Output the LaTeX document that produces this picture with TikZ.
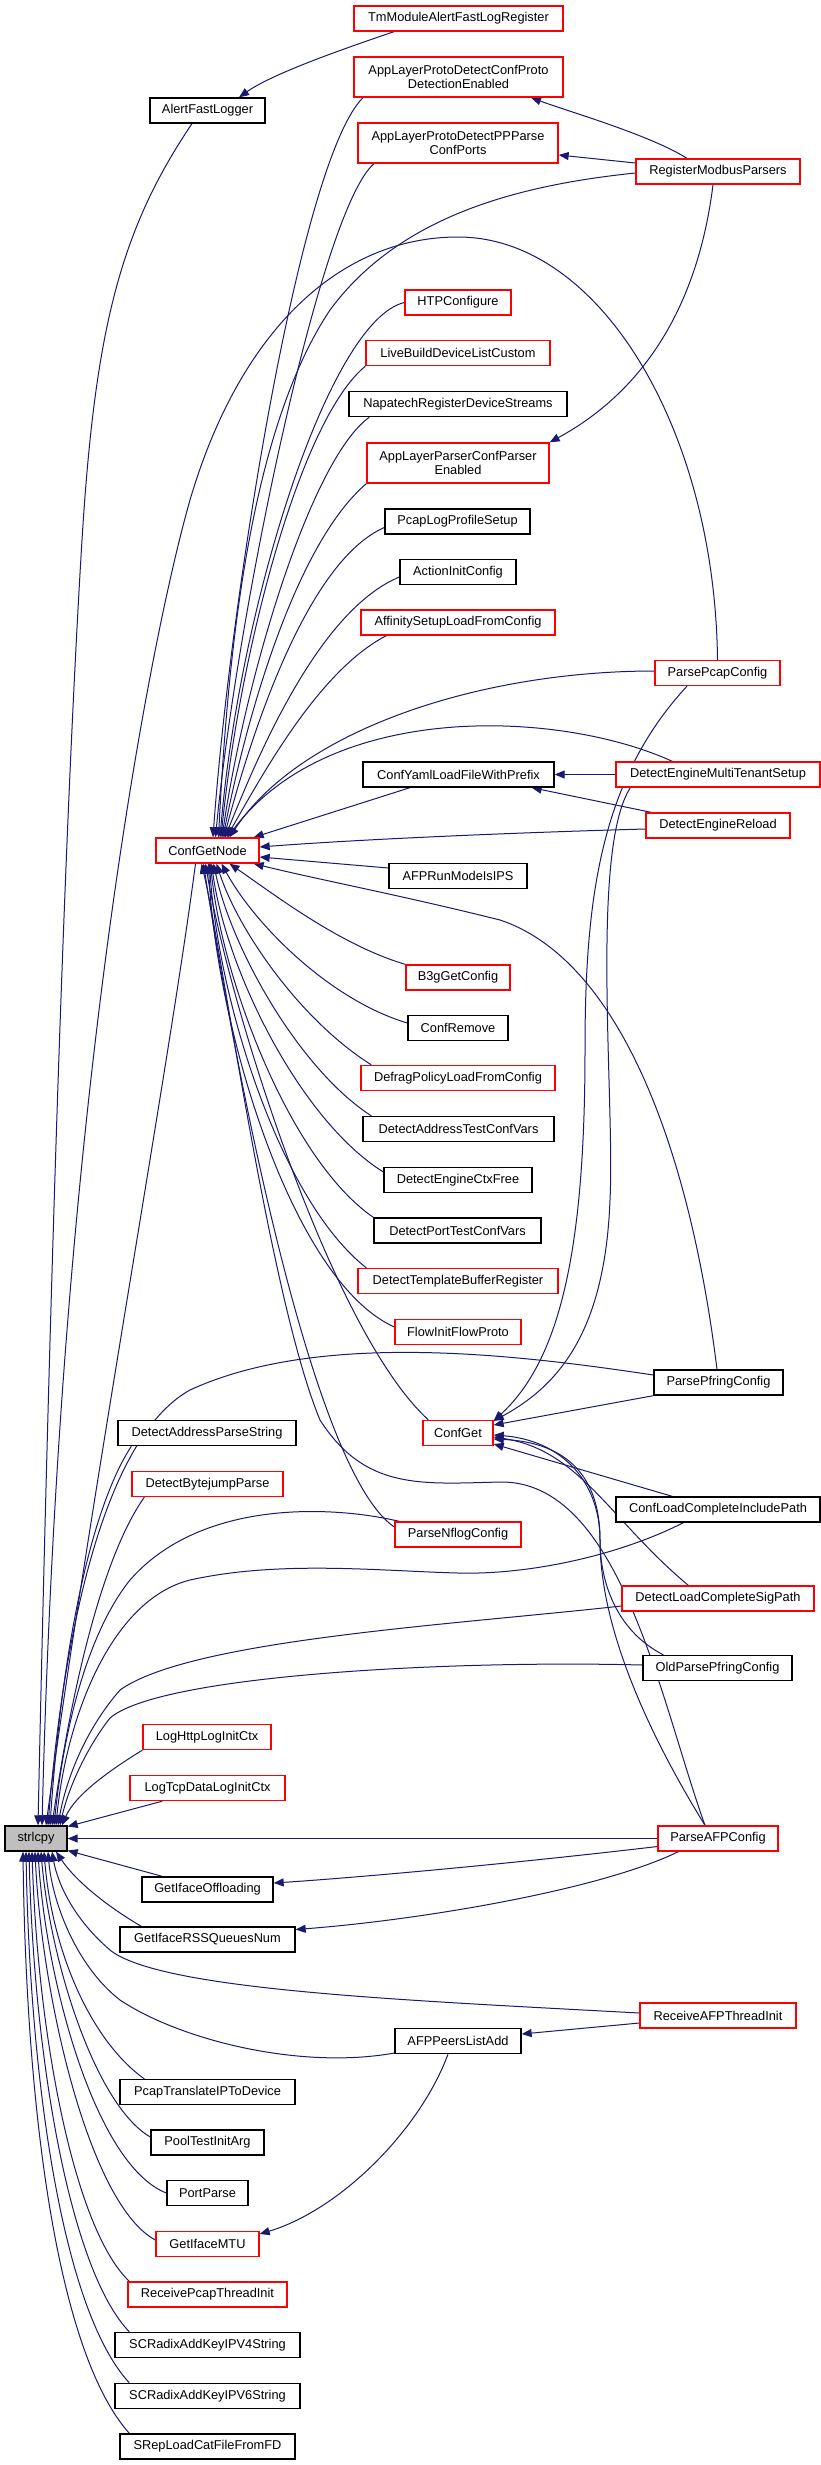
\documentclass[tikz,border=0pt]{standalone}
\usepackage{fontspec}
\setmainfont{Liberation Sans}
\usetikzlibrary{arrows.meta}
\definecolor{edgec}{HTML}{191970}
\definecolor{nodegray}{HTML}{BFBFBF}
\pgfdeclarelayer{bg}
\pgfsetlayers{bg,main}
\begin{document}
\begin{tikzpicture}[x=1pt,y=-1pt,
  nb/.style={draw=black, line width=1.3pt, fill=white, inner sep=0pt, minimum height=25pt, font=\fontsize{12.8}{14.5}\selectfont, align=center},
  nr/.style={nb, draw=red},
  e/.style={draw=edgec, line width=1pt, -{Triangle[length=10pt,width=8pt]}},
]
\useasboundingbox (0,0) rectangle (821,2465);
% ---- nodes
\node[nb, fill=nodegray, minimum width=62pt] (strl) at (36,1838.5) {strlcpy};
\node[nr, minimum width=209pt] (tm) at (458.5,18.5) {TmModuleAlertFastLogRegister};
\node[nr, minimum width=209pt, minimum height=40pt] (alpd) at (458.5,77) {AppLayerProtoDetectConfProto\\DetectionEnabled};
\node[nb, minimum width=115pt] (afl) at (207.5,110.5) {AlertFastLogger};
\node[nr, minimum width=200pt, minimum height=40pt] (alpp) at (458,143) {AppLayerProtoDetectPPParse\\ConfPorts};
\node[nr, minimum width=164pt] (rmp) at (718,171.5) {RegisterModbusParsers};
\node[nr, minimum width=106pt] (htp) at (458,302.5) {HTPConfigure};
\node[nr, minimum width=184pt] (lbd) at (458,353) {LiveBuildDeviceListCustom};
\node[nb, minimum width=218pt] (nap) at (458,404) {NapatechRegisterDeviceStreams};
\node[nr, minimum width=182pt, minimum height=40pt] (alpc) at (458,463) {AppLayerParserConfParser\\Enabled};
\node[nb, minimum width=145pt] (pcl) at (457.5,521.5) {PcapLogProfileSetup};
\node[nb, minimum width=116pt] (aic) at (458,572) {ActionInitConfig};
\node[nr, minimum width=194pt] (asl) at (458,622.5) {AffinitySetupLoadFromConfig};
\node[nr, minimum width=125pt] (ppc) at (717.5,673) {ParsePcapConfig};
\node[nb, minimum width=191pt] (cyl) at (458.5,774.5) {ConfYamlLoadFileWithPrefix};
\node[nr, minimum width=204pt] (demt) at (718,774.5) {DetectEngineMultiTenantSetup};
\node[nr, minimum width=144pt] (der) at (718,825.5) {DetectEngineReload};
\node[nr, minimum width=103pt] (cgn) at (207.5,850.5) {ConfGetNode};
\node[nb, minimum width=138pt] (afpr) at (458,876) {AFPRunModeIsIPS};
\node[nr, minimum width=104pt] (b3g) at (458,977.5) {B3gGetConfig};
\node[nb, minimum width=100pt] (crm) at (458,1028) {ConfRemove};
\node[nr, minimum width=194pt] (dpl) at (458,1078) {DefragPolicyLoadFromConfig};
\node[nb, minimum width=191pt] (datc) at (458.5,1129) {DetectAddressTestConfVars};
\node[nb, minimum width=148pt] (dec) at (458,1180) {DetectEngineCtxFree};
\node[nb, minimum width=167pt] (dptc) at (457.5,1230.5) {DetectPortTestConfVars};
\node[nr, minimum width=200pt] (dtbr) at (458,1281) {DetectTemplateBufferRegister};
\node[nr, minimum width=126pt] (fifp) at (458,1332) {FlowInitFlowProto};
\node[nb, minimum width=129pt] (ppf) at (718.5,1382.5) {ParsePfringConfig};
\node[nr, minimum width=70pt] (cg) at (458,1433) {ConfGet};
\node[nb, minimum width=178pt] (daps) at (207,1433) {DetectAddressParseString};
\node[nr, minimum width=151pt] (dbp) at (207.5,1484) {DetectBytejumpParse};
\node[nb, minimum width=204pt] (clc) at (718,1509.5) {ConfLoadCompleteIncludePath};
\node[nr, minimum width=126pt] (pnc) at (458,1534.5) {ParseNflogConfig};
\node[nr, minimum width=192pt] (dlc) at (718,1598.5) {DetectLoadCompleteSigPath};
\node[nb, minimum width=149pt] (oppc) at (717.5,1668) {OldParsePfringConfig};
\node[nr, minimum width=128pt] (lhl) at (207,1737) {LogHttpLogInitCtx};
\node[nr, minimum width=155pt] (ltd) at (207.5,1788) {LogTcpDataLogInitCtx};
\node[nr, minimum width=120pt] (pafp) at (718,1838.5) {ParseAFPConfig};
\node[nb, minimum width=131pt] (gio) at (207.5,1889.5) {GetIfaceOffloading};
\node[nb, minimum width=175pt] (grss) at (207.5,1939.5) {GetIfaceRSSQueuesNum};
\node[nr, minimum width=156pt] (rafp) at (718,2015.5) {ReceiveAFPThreadInit};
\node[nb, minimum width=126pt] (afpp) at (458,2041) {AFPPeersListAdd};
\node[nb, minimum width=175pt] (ptip) at (207.5,2092) {PcapTranslateIPToDevice};
\node[nb, minimum width=113pt] (ptia) at (207.5,2142.5) {PoolTestInitArg};
\node[nb, minimum width=81pt] (pp) at (207.5,2193) {PortParse};
\node[nr, minimum width=103pt] (gmtu) at (207.5,2244) {GetIfaceMTU};
\node[nr, minimum width=159pt] (rpti) at (207.5,2294.5) {ReceivePcapThreadInit};
\node[nb, minimum width=185pt] (sc4) at (207.5,2345) {SCRadixAddKeyIPV4String};
\node[nb, minimum width=185pt] (sc6) at (207.5,2396) {SCRadixAddKeyIPV6String};
\node[nb, minimum width=175pt] (srep) at (207.5,2446.5) {SRepLoadCatFileFromFD};
% ---- edges
\begin{pgfonlayer}{bg}
\fill[white] (0,0) rectangle (821,2465);
\draw[e] ([xshift=-64.5pt]tm.south) .. controls (340,50) and (272,74) .. ([xshift=31.5pt]afl.north);
\draw[e] ([xshift=-15.5pt]afl.south) .. controls (120,230) and (95,330) .. (82,540) .. controls (60,900) and (45,1500) .. ([xshift=2pt]strl.north);
\draw[e] ([xshift=-95.5pt]alpd.south) .. controls (300,160) and (230,600) .. ([xshift=5.5pt]cgn.north);
\draw[e] ([xshift=-84pt]alpp.south) .. controls (320,210) and (236,620) .. ([xshift=8pt]cgn.north);
\draw[e] ([xshift=-31pt]rmp.north) .. controls (650,135) and (570,112) .. ([xshift=72.5pt]alpd.south);
\draw[e] ([yshift=8.5pt]rmp.west) -- ([yshift=-12pt]alpp.east);
\draw[e] ([yshift=-1.5pt]rmp.west) .. controls (520,185) and (400,215) .. (330,310) .. controls (250,430) and (228,650) .. ([xshift=11pt]cgn.north);
\draw[e] ([xshift=-5pt]rmp.south) .. controls (700,290) and (655,385) .. (alpc.north east);
\draw[e] (htp.west) .. controls (330,320) and (240,600) .. ([xshift=12.5pt]cgn.north);
\draw[e] (lbd.south west) .. controls (300,420) and (240,650) .. ([xshift=13.5pt]cgn.north);
\draw[e] ([xshift=21pt]nap.south west) .. controls (310,460) and (245,680) .. ([xshift=14.5pt]cgn.north);
\draw[e] (alpc.south west) .. controls (300,540) and (250,700) .. ([xshift=15.5pt]cgn.north);
\draw[e] ([yshift=-6pt]pcl.west) .. controls (310,560) and (255,720) .. ([xshift=16.5pt]cgn.north);
\draw[e] ([yshift=-5pt]aic.west) .. controls (320,610) and (260,750) .. ([xshift=17.5pt]cgn.north);
\draw[e] ([xshift=26pt]asl.south west) .. controls (320,670) and (265,770) .. ([xshift=19pt]cgn.north);
\draw[e] (ppc.north) .. controls (715,430) and (600,237) .. (458,237) .. controls (340,237) and (240,330) .. (190,500) .. controls (150,640) and (60,1100) .. ([xshift=6pt]strl.north);
\draw[e] ([yshift=2pt]ppc.west) .. controls (480,671) and (300,730) .. ([xshift=22pt]cgn.north);
\draw[e] ([xshift=-30.5pt]ppc.south) .. controls (600,780) and (585,900) .. (585,1050) .. controls (585,1250) and (560,1360) .. ([yshift=-1pt]cg.north east);
\draw[e] ([xshift=57pt]demt.north west) .. controls (560,710) and (330,700) .. ([xshift=20pt]cgn.north);
\draw[e] (demt.west) -- (cyl.east);
\draw[e] ([xshift=15pt]demt.south west) .. controls (590,850) and (615,1100) .. (610,1200) .. controls (605,1330) and (560,1385) .. ([yshift=-1pt]cg.north east);
\draw[e] ([xshift=6pt]der.north west) -- ([xshift=-23pt]cyl.south east);
\draw[e] ([yshift=-3.5pt]der.west) .. controls (500,833) and (350,840) .. ([yshift=3.5pt]cgn.east);
\draw[e] ([xshift=-48.5pt]cyl.south) -- ([xshift=-6pt]cgn.north east);
\draw[e] ([yshift=8pt]afpr.west) -- ([yshift=-6.5pt]cgn.east);
\draw[e] ([xshift=-1.5pt]ppf.north) .. controls (690,1150) and (620,960) .. (500,920) .. controls (400,895) and (320,880) .. ([xshift=-6pt]cgn.south east);
\draw[e] (b3g.north west) .. controls (340,945) and (275,895) .. ([xshift=22pt]cgn.south);
\draw[e] ([yshift=5pt]crm.west) .. controls (330,1000) and (255,925) .. ([xshift=14pt]cgn.south);
\draw[e] ([xshift=11pt]dpl.north west) .. controls (300,1020) and (238,930) .. ([xshift=9pt]cgn.south);
\draw[e] ([xshift=9pt]datc.north west) .. controls (300,1070) and (232,950) .. ([xshift=6pt]cgn.south);
\draw[e] ([yshift=8pt]dec.west) .. controls (300,1120) and (226,970) .. ([xshift=4pt]cgn.south);
\draw[e] (dptc.north west) .. controls (290,1160) and (222,980) .. ([xshift=3pt]cgn.south);
\draw[e] ([xshift=9pt]dtbr.north west) .. controls (280,1200) and (218,1000) .. ([xshift=2pt]cgn.south);
\draw[e] ([yshift=5pt]fifp.west) .. controls (290,1280) and (215,1020) .. ([xshift=1pt]cgn.south);
\draw[e] ([xshift=6pt]cg.north west) .. controls (330,1330) and (228,1000) .. ([xshift=-2pt]cgn.south);
\draw[e] ([yshift=7.5pt]pnc.west) .. controls (310,1470) and (232,1050) .. ([xshift=-4pt]cgn.south);
\draw[e] ([xshift=-13pt]pafp.north) .. controls (660,1700) and (620,1480) .. (500,1482) .. controls (420,1484) and (365,1490) .. (320,1420) .. controls (270,1300) and (222,950) .. ([xshift=-6pt]cgn.south);
\draw[e] ([xshift=-12pt]cgn.south) .. controls (170,1060) and (90,1500) .. ([xshift=10pt]strl.north);
\draw[e] ([yshift=7.5pt]ppf.west) .. controls (520,1355) and (320,1330) .. (190,1390) .. controls (100,1440) and (62,1650) .. ([xshift=12pt]strl.north);
\draw[e] (ppf.south west) -- ([yshift=8pt]cg.east);
\draw[e] ([xshift=14pt]daps.south west) .. controls (90,1510) and (62,1650) .. ([xshift=14pt]strl.north);
\draw[e] ([xshift=13pt]dbp.south west) .. controls (100,1560) and (70,1700) .. ([xshift=16pt]strl.north);
\draw[e] ([xshift=5pt]pnc.north west) .. controls (330,1505) and (200,1500) .. (130,1580) .. controls (90,1630) and (65,1720) .. ([xshift=18pt]strl.north);
\draw[e] ([xshift=68pt]clc.south west) .. controls (620,1555) and (530,1575) .. (458,1573) .. controls (380,1571) and (280,1560) .. (190,1580) .. controls (110,1600) and (66,1720) .. ([xshift=20pt]strl.north);
\draw[e] ([xshift=57pt]clc.north west) -- ([yshift=-11pt]cg.east);
\draw[e] ([xshift=67pt]dlc.north west) .. controls (610,1520) and (580,1450) .. ([yshift=-4pt]cg.east);
\draw[e] ([yshift=-7.5pt]dlc.west) .. controls (450,1625) and (190,1640) .. (120,1690) .. controls (85,1730) and (66,1780) .. ([xshift=22pt]strl.north);
\draw[e] ([xshift=21pt]oppc.north west) .. controls (615,1630) and (600,1580) .. (600,1540) .. controls (600,1480) and (560,1440) .. ([yshift=-2pt]cg.east);
\draw[e] ([yshift=3pt]oppc.west) .. controls (450,1660) and (160,1675) .. (110,1718) .. controls (85,1750) and (68,1790) .. ([xshift=24pt]strl.north);
\draw[e] (lhl.south west) .. controls (110,1770) and (75,1795) .. ([xshift=26pt]strl.north);
\draw[e] ([xshift=33pt]ltd.south west) -- ([yshift=12pt]strl.east);
\draw[e] (pafp.west) -- (strl.east);
\draw[e] ([yshift=-8pt]pafp.west) .. controls (500,1865) and (350,1878) .. ([yshift=6.5pt]gio.east);
\draw[e] ([xshift=21pt]pafp.south west) .. controls (600,1890) and (420,1920) .. ([yshift=10pt]grss.east);
\draw[e] ([xshift=-13pt]pafp.north) .. controls (640,1720) and (600,1620) .. (600,1540) .. controls (600,1470) and (560,1442) .. ([yshift=-6pt]cg.east);
\draw[e] ([xshift=21pt]gio.north west) -- ([yshift=-12pt]strl.east);
\draw[e] ([xshift=22pt]grss.north west) .. controls (105,1905) and (75,1880) .. ([xshift=20pt]strl.south);
\draw[e] ([yshift=2.5pt]rafp.west) .. controls (400,2000) and (160,1990) .. (110,1950) .. controls (75,1920) and (58,1885) .. ([xshift=16pt]strl.south);
\draw[e] ([yshift=-7.5pt]rafp.west) -- ([yshift=7pt]afpp.east);
\draw[e] ([yshift=-12pt]afpp.west) .. controls (300,2070) and (180,2040) .. (120,2000) .. controls (75,1965) and (52,1900) .. ([xshift=12pt]strl.south);
\draw[e] ([xshift=-10pt]afpp.south) .. controls (420,2130) and (340,2210) .. ([yshift=10pt]gmtu.east);
\draw[e] ([xshift=25pt]ptip.north west) .. controls (90,2040) and (52,1950) .. ([xshift=8pt]strl.south);
\draw[e] ([yshift=5.5pt]ptia.west) .. controls (95,2105) and (50,1960) .. ([xshift=5pt]strl.south);
\draw[e] (pp.west) .. controls (95,2165) and (46,1980) .. ([xshift=2pt]strl.south);
\draw[e] ([yshift=4pt]gmtu.west) .. controls (90,2205) and (42,2000) .. ([xshift=-1pt]strl.south);
\draw[e] ([xshift=2pt]rpti.north west) .. controls (75,2230) and (38,2040) .. ([xshift=-4pt]strl.south);
\draw[e] ([xshift=15pt]sc4.north west) .. controls (70,2270) and (34,2060) .. ([xshift=-7pt]strl.south);
\draw[e] ([xshift=15pt]sc6.north west) .. controls (62,2310) and (30,2080) .. ([xshift=-10pt]strl.south);
\draw[e] ([xshift=10pt]srep.north west) .. controls (55,2350) and (26,2100) .. ([xshift=-13pt]strl.south);
\end{pgfonlayer}
\end{tikzpicture}
\end{document}
